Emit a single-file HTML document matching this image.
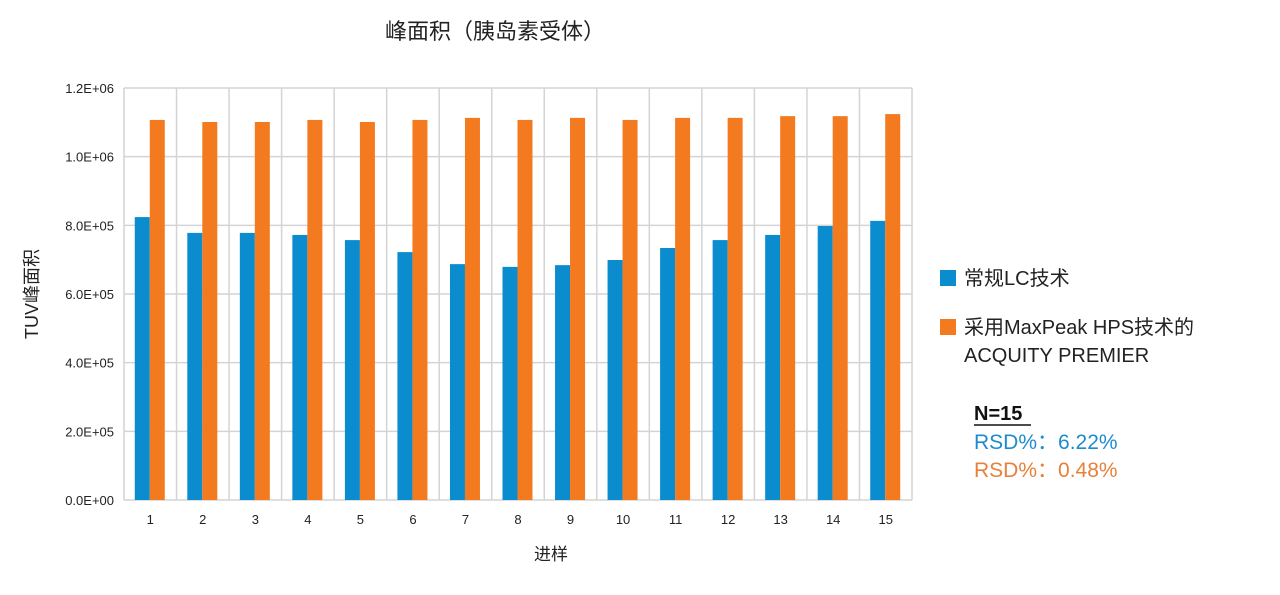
<!DOCTYPE html>
<html><head><meta charset="utf-8"><style>
body{margin:0;background:#fff;width:1280px;height:590px;overflow:hidden;font-family:"Liberation Sans","Noto Sans CJK SC",sans-serif}
</style></head><body>
<svg id="c" width="1280" height="590" xmlns="http://www.w3.org/2000/svg" style="font-family:'Liberation Sans','Noto Sans CJK SC',sans-serif">
<text x="495" y="39" font-size="22" text-anchor="middle" fill="#222">峰面积（胰岛素受体）</text>
<text transform="translate(38,294) rotate(-90)" font-size="18" text-anchor="middle" fill="#222">TUV峰面积</text>
<text x="551" y="560" font-size="17" text-anchor="middle" fill="#222">进样</text>
<g id="grid"></g><g id="bars"></g><g id="ticks"></g>
<rect x="940" y="270" width="16" height="16" fill="#0a8ccf"/>
<text x="964" y="285" font-size="20" fill="#222">常规LC技术</text>
<rect x="940" y="319" width="16" height="16" fill="#f47a20"/>
<text x="964" y="334" font-size="20" fill="#222">采用MaxPeak HPS技术的</text>
<text x="964" y="362" font-size="20" fill="#222">ACQUITY PREMIER</text>
<text x="974" y="420" font-size="20" font-weight="bold" fill="#111">N=15</text>
<line x1="974" y1="425" x2="1031" y2="425" stroke="#111" stroke-width="1.5"/>
<text x="974" y="449" font-size="21" fill="#1e8ccc">RSD%：6.22%</text>
<text x="974" y="477" font-size="21" fill="#e8803a">RSD%：0.48%</text>
</svg>
<script>
const categories=["1","2","3","4","5","6","7","8","9","10","11","12","13","14","15"];
const conventional=[824000,778000,778000,772000,757000,722000,687000,679000,684000,699000,734000,757000,772000,798000,813000];
const premier=[1107000,1101000,1101000,1107000,1101000,1107000,1113000,1107000,1113000,1107000,1113000,1113000,1118000,1118000,1124000];
const yTicks=[0,200000,400000,600000,800000,1000000,1200000];
const yTickLabels=["0.0E+00","2.0E+05","4.0E+05","6.0E+05","8.0E+05","1.0E+06","1.2E+06"];
const NS="http://www.w3.org/2000/svg";
const L=124,R=912,T=88,B=500,yMax=1200000;
const cw=(R-L)/categories.length;
const y=v=>B-(v/yMax)*(B-T);
const x=i=>L+i*cw;
function mk(tag,attrs,parent){const e=document.createElementNS(NS,tag);for(const k in attrs)e.setAttribute(k,attrs[k]);document.getElementById(parent).appendChild(e);return e;}
yTicks.forEach((t,i)=>{
 const g=mk('line',{x1:L,x2:R,y1:y(t),y2:y(t),stroke:'#d4d4d4','stroke-width':1.5},'grid');
 
 
 const tx=mk('text',{x:L-10,y:y(t)+5,'font-size':13,'text-anchor':'end',fill:'#222'},'ticks');
 tx.textContent=yTickLabels[i];
 
 
});
for(let i=0;i<=categories.length;i++){
 const g=mk('line',{x1:x(i),x2:x(i),y1:T,y2:B,stroke:'#d4d4d4','stroke-width':1.5},'grid');
 
 
}
categories.forEach((c,i)=>{
 const bw=15,cx=x(i)+cw/2;
 const b1=mk('rect',{x:cx-bw-0.5,y:y(conventional[i]),width:bw,height:B-y(conventional[i]),fill:'#0a8ccf'},'bars');
 
 
 const b2=mk('rect',{x:cx-0.5,y:y(premier[i]),width:bw,height:B-y(premier[i]),fill:'#f47a20'},'bars');
 
 
 const tx=mk('text',{x:cx,y:524,'font-size':13,'text-anchor':'middle',fill:'#222'},'ticks');
 tx.textContent=c;
 
 
});
</script>
</body></html>
